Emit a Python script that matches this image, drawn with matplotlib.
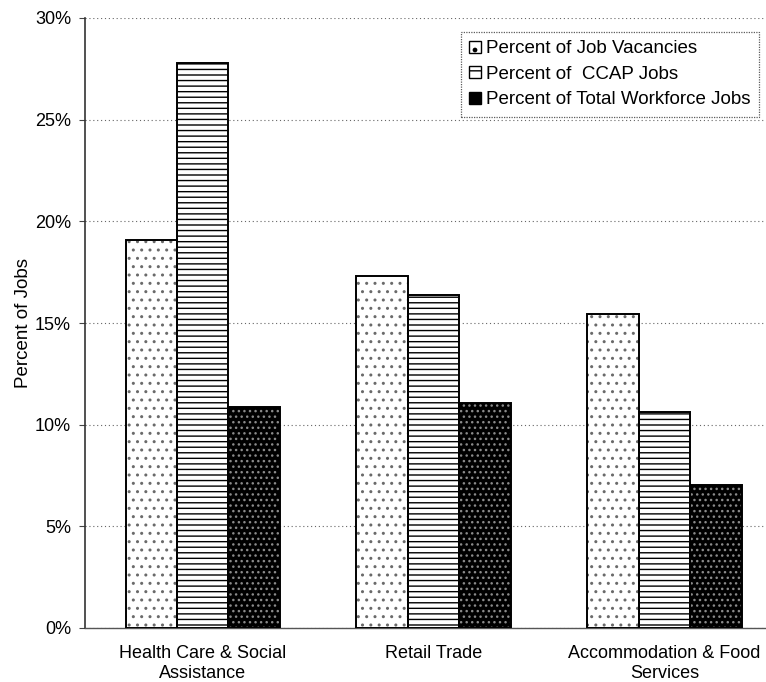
import numpy as np
import matplotlib
matplotlib.use("Agg")
import matplotlib.pyplot as plt
from matplotlib.patches import Patch
from matplotlib.ticker import FuncFormatter

plt.rcParams['font.family'] = ['Liberation Sans', 'DejaVu Sans']
plt.rcParams['hatch.linewidth'] = 1.0

# data
industries = ["Health Care & Social\nAssistance", "Retail Trade", "Accommodation & Food\nServices"]
job_vacancies = [19.1, 17.3, 15.45]
ccap_jobs = [27.8, 16.4, 10.6]
total_workforce = [10.85, 11.05, 7.05]
series_names = ["Percent of Job Vacancies", "Percent of  CCAP Jobs", "Percent of Total Workforce Jobs"]
yticks = [0, 5, 10, 15, 20, 25, 30]

fig = plt.figure(figsize=(7.66, 6.82), dpi=100)
ax = fig.add_axes([85 / 766, 1 - 628 / 682, 681 / 766, 610 / 682])

x = np.arange(len(industries))
w = 0.223

# sparse grey dots, outline drawn separately so the hatch can stay grey
ax.bar(x - w, job_vacancies, w, facecolor='white', edgecolor='#6a6a6a',
       hatch='..', linewidth=0, zorder=3)
ax.bar(x - w, job_vacancies, w, fill=False, edgecolor='black', linewidth=1.4, zorder=4)
ax.bar(x, ccap_jobs, w, facecolor='white', edgecolor='black',
       hatch='---', linewidth=1.4, zorder=3)
# dark bars: speckle hatch, then a black outline on top
ax.bar(x + w, total_workforce, w, facecolor='black', edgecolor='#8a8a8a',
       hatch='...', linewidth=0, zorder=3)
ax.bar(x + w, total_workforce, w, fill=False, edgecolor='black', linewidth=1.4, zorder=4)

ax.set_xlim(-0.51, 2.44)
ax.set_ylim(0, 30)
ax.set_yticks(yticks)
ax.yaxis.set_major_formatter(FuncFormatter(lambda v, p: "%d%%" % v))
ax.set_xticks(x)
ax.set_xticklabels(industries, fontsize=13, linespacing=1.25)
ax.tick_params(axis='x', length=0, pad=12)
ax.tick_params(axis='y', length=4, width=0.8, labelsize=13, pad=6, color='#444444')

ax.yaxis.grid(True, linestyle=(0, (1, 2.5)), color='#666666', linewidth=0.8, zorder=0)
ax.set_axisbelow(True)

for s in ['top', 'right']:
    ax.spines[s].set_visible(False)
ax.spines['left'].set_color('#333333')
ax.spines['left'].set_linewidth(1.2)
ax.spines['bottom'].set_linestyle((0, (2, 1)))
ax.spines['bottom'].set_color('#555555')
ax.spines['bottom'].set_linewidth(1.0)

ax.set_ylabel("Percent of Jobs", fontsize=13.5, labelpad=2)

handles = [
    Patch(facecolor='white', edgecolor='black', hatch='.', linewidth=1.0),
    Patch(facecolor='white', edgecolor='black', hatch='--', linewidth=1.0),
    Patch(facecolor='black', edgecolor='black', linewidth=1.0),
]
leg = ax.legend(handles, series_names, loc='upper right', bbox_to_anchor=(0.99, 0.977),
                fontsize=13.5, frameon=True, fancybox=False, handlelength=0.6,
                handleheight=0.6, handletextpad=0.3, labelspacing=0.45,
                borderpad=0.45, borderaxespad=0)
leg.get_frame().set_edgecolor('#333333')
leg.get_frame().set_linestyle((0, (1, 1)))
leg.get_frame().set_linewidth(0.9)

fig.savefig("out.png", dpi=100)
